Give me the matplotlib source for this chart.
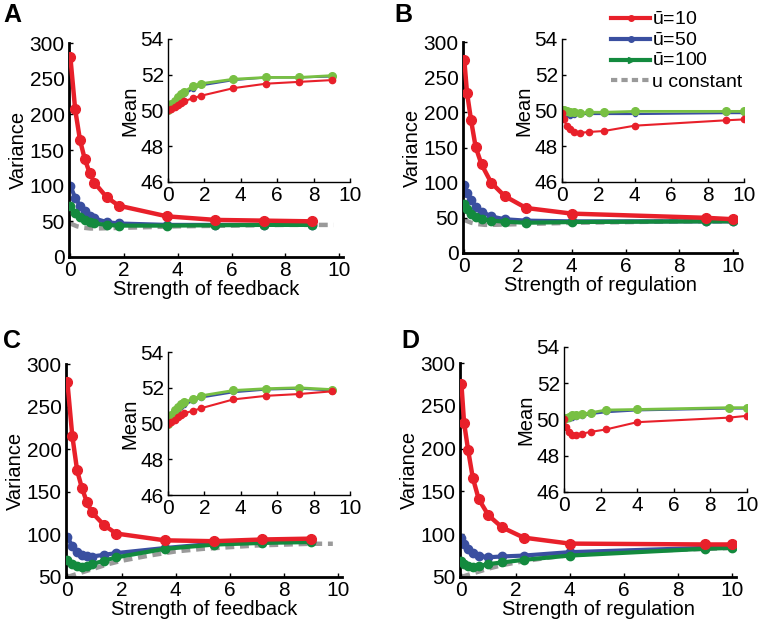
import matplotlib
matplotlib.use('Agg')
import matplotlib.pyplot as plt
from matplotlib.lines import Line2D

plt.rcParams['font.family'] = ['Liberation Sans', 'DejaVu Sans']
plt.rcParams['mathtext.fontset'] = 'custom'
plt.rcParams['mathtext.rm'] = 'Liberation Sans'

# x values (strength of feedback / regulation)
x_fb = [0, 0.18, 0.36, 0.54, 0.72, 0.9, 1.35, 1.8, 3.6, 5.4, 7.2, 9.0]
x_reg = [0, 0.1, 0.25, 0.42, 0.64, 1.0, 1.5, 2.3, 4.0, 9.0, 10.0]
x_const_ab = [0, 0.25, 0.5, 0.75, 1, 1.5, 2, 3, 4, 5, 6, 7, 8, 9, 9.8]
x_const_cd = [0, 0.5, 1, 1.5, 2, 3, 4, 5, 6, 7, 8, 9, 9.8]

# panel A
varA_10 = [281, 207, 164, 137, 118, 104, 84, 72, 57, 52, 51, 50]
varA_50 = [100, 83, 72, 64, 58, 54, 49, 47, 45, 45, 45, 45]
varA_100 = [71, 62, 56, 52, 49, 47, 45, 44, 44, 44.5, 45, 45]
varA_const = [47, 43, 41, 40, 40, 40.5, 41, 42, 43, 43.5, 44, 44.5, 45, 45, 45]
meanA_10 = [50.0, 50.1, 50.2, 50.3, 50.42, 50.52, 50.68, 50.82, 51.25, 51.5, 51.6, 51.7]
meanA_50 = [50.0, 50.25, 50.45, 50.6, 50.75, 50.9, 51.2, 51.4, 51.7, 51.85, 51.85, 51.9]
meanA_100 = [50.0, 50.35, 50.55, 50.75, 50.9, 51.05, 51.35, 51.5, 51.75, 51.85, 51.85, 51.95]

# panel B
varB_10 = [274, 228, 189, 151, 126, 100, 81, 64, 56, 50, 48]
varB_50 = [97, 86, 76, 66, 59, 52, 48, 46, 45, 45, 45]
varB_100 = [70, 63, 56, 51, 48, 46, 44.5, 43, 44, 45, 45]
varB_const = [47, 43, 41, 40, 40, 40.5, 41, 42, 43, 43.5, 44, 44.5, 45, 45, 45]
meanB_10 = [49.85, 49.5, 49.15, 48.95, 48.8, 48.75, 48.8, 48.85, 49.15, 49.45, 49.5]
meanB_50 = [49.8, 49.75, 49.75, 49.7, 49.75, 49.8, 49.8, 49.8, 49.8, 49.85, 49.85]
meanB_100 = [50.05, 50.0, 49.95, 49.9, 49.9, 49.85, 49.9, 49.9, 49.95, 49.95, 49.95]

# panel C
varC_10 = [279, 216, 175, 154, 138, 126, 111, 101, 93, 92, 94, 95]
varC_50 = [97, 86, 79, 76, 75, 74, 76, 78, 84, 89, 92, 92]
varC_100 = [70, 65, 63, 62, 63, 65, 69, 73, 83, 88, 90, 91]
varC_const = [50, 55, 60, 65, 69, 75, 80, 83, 85, 87, 88, 89, 89]
meanC_10 = [50.0, 50.1, 50.22, 50.35, 50.48, 50.58, 50.7, 50.85, 51.35, 51.55, 51.65, 51.8]
meanC_50 = [50.0, 50.3, 50.55, 50.75, 50.95, 51.05, 51.25, 51.45, 51.75, 51.9, 51.95, 51.85]
meanC_100 = [50.0, 50.45, 50.75, 50.95, 51.1, 51.2, 51.35, 51.55, 51.85, 51.95, 52.0, 51.9]

# panel D
varD_10 = [276, 230, 198, 166, 141, 122, 108, 96, 89, 88, 88]
varD_50 = [95, 89, 83, 78, 75, 73, 74, 75, 79, 84, 85]
varD_100 = [69, 65, 63, 62, 63, 65, 67, 70, 75, 83, 84]
varD_const = [50, 55, 60, 64, 67, 72, 76, 78, 80, 81, 82, 83, 84]
meanD_10 = [50.05, 49.6, 49.3, 49.12, 49.15, 49.22, 49.32, 49.45, 49.85, 50.1, 50.2]
meanD_50 = [49.9, 50.0, 50.05, 50.1, 50.15, 50.2, 50.3, 50.4, 50.5, 50.6, 50.6]
meanD_100 = [50.05, 50.1, 50.15, 50.22, 50.27, 50.3, 50.38, 50.52, 50.55, 50.65, 50.65]

legend_labels = [r'$\bar{\mathrm{u}}$=10', r'$\bar{\mathrm{u}}$=50', r'$\bar{\mathrm{u}}$=100', 'u constant']

RED = '#e8202a'
BLUE = '#3a4fa0'
DGREEN = '#138a3e'
LGREEN = '#78c043'
GRAY = '#9a9a9a'

fig = plt.figure(figsize=(7.58, 6.2), dpi=100)


def style(ax, lw):
    for s in ['top', 'right']:
        ax.spines[s].set_visible(False)
    for s in ['left', 'bottom']:
        ax.spines[s].set_linewidth(lw)
    ax.tick_params(direction='in', length=3, width=1, labelsize=15, pad=3)


def panel(main_rect, inset_rect, x, v10, v50, v100, xc, vc, m10, m50, m100,
          xlabel, ylim, yticks, letter, letter_pos):
    ax = fig.add_axes(main_rect)
    ax.plot(xc, vc, color=GRAY, lw=3.2, ls=(0, (2.0, 1.3)), zorder=1)
    ax.plot(x, v50, color=BLUE, lw=3, marker='o', ms=6, zorder=2)
    ax.plot(x, v100, color=DGREEN, lw=3, marker='o', ms=6, zorder=3)
    ax.plot(x, v10, color=RED, lw=3.2, marker='o', ms=7, zorder=4)
    ax.set_xlim(-0.05, 10.15)
    ax.set_ylim(*ylim)
    ax.set_xticks([0, 2, 4, 6, 8, 10])
    ax.set_yticks(yticks)
    ax.set_xlabel(xlabel, fontsize=14.5, labelpad=0)
    ax.set_ylabel('Variance', fontsize=14.5, labelpad=1)
    style(ax, 2)

    ins = fig.add_axes(inset_rect)
    ins.plot(x, m50, color=BLUE, lw=1.5, marker='o', ms=3)
    ins.plot(x, m100, color=LGREEN, lw=2, marker='o', ms=5.5)
    ins.plot(x, m10, color=RED, lw=1.5, marker='o', ms=4.5)
    ins.set_xlim(0, 10)
    ins.set_ylim(46, 54)
    ins.set_xticks([0, 2, 4, 6, 8, 10])
    ins.set_yticks([46, 48, 50, 52, 54])
    ins.set_ylabel('Mean', fontsize=14.5, labelpad=1)
    style(ins, 1)

    fig.text(letter_pos[0], letter_pos[1], letter, fontsize=18, fontweight='bold',
             ha='left', va='top')


panel([0.091, 0.5855, 0.3615, 0.345], [0.2216, 0.7065, 0.240, 0.2306],
      x_fb, varA_10, varA_50, varA_100, x_const_ab, varA_const,
      meanA_10, meanA_50, meanA_100, 'Strength of feedback',
      (0, 300), [0, 50, 100, 150, 200, 250, 300], 'A', (0.004, 0.995))

panel([0.6108, 0.592, 0.3615, 0.340], [0.7414, 0.7065, 0.240, 0.2306],
      x_reg, varB_10, varB_50, varB_100, [c * 10 / 9.8 for c in x_const_ab], varB_const,
      meanB_10, meanB_50, meanB_100, 'Strength of regulation',
      (0, 300), [0, 50, 100, 150, 200, 250, 300], 'B', (0.52, 0.995))

panel([0.0871, 0.0694, 0.3645, 0.3435], [0.2216, 0.2016, 0.240, 0.2306],
      x_fb, varC_10, varC_50, varC_100, x_const_cd, varC_const,
      meanC_10, meanC_50, meanC_100, 'Strength of feedback',
      (50, 300), [50, 100, 150, 200, 250, 300], 'C', (0.004, 0.47))

panel([0.6069, 0.0694, 0.3645, 0.345], [0.744, 0.2065, 0.2414, 0.2339],
      x_reg, varD_10, varD_50, varD_100, [c * 10 / 9.8 for c in x_const_cd], varD_const,
      meanD_10, meanD_50, meanD_100, 'Strength of regulation',
      (50, 300), [50, 100, 150, 200, 250, 300], 'D', (0.53, 0.47))

handles = [Line2D([], [], color=RED, lw=3, marker='o', ms=4),
           Line2D([], [], color=BLUE, lw=3, marker='o', ms=4),
           Line2D([], [], color=DGREEN, lw=3, marker='>', ms=4),
           Line2D([], [], color=GRAY, lw=3, ls=(0, (1.5, 1.0)))]
fig.legend(handles, legend_labels, loc='upper right', bbox_to_anchor=(0.995, 1.0),
           frameon=False, fontsize=14, handlelength=2.0, handletextpad=0.1,
           labelspacing=0.15, borderaxespad=0.2)

fig.savefig('out.png', dpi=100)
